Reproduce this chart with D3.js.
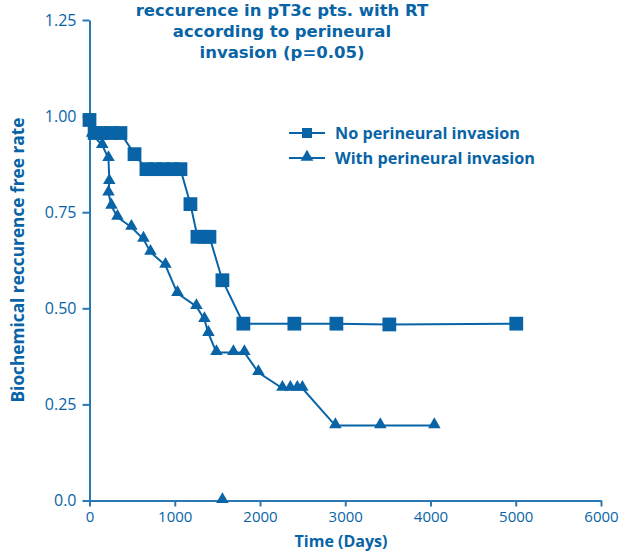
<!DOCTYPE html>
<html><head><meta charset="utf-8">
<script src="https://cdn.jsdelivr.net/npm/d3@7"></script>
<style>body{margin:0;background:#fff}</style>
</head><body>
<svg id="c" width="632" height="554"></svg>
<script>
// ---- data ----
const titleLines = ["reccurence in pT3c pts. with RT", "according to perineural", "invasion (p=0.05)"];
const xTicks = [0, 1000, 2000, 3000, 4000, 5000, 6000];
const yTicks = [0, 0.25, 0.5, 0.75, 1.0, 1.25];
const yTickLabels = ["0.0", "0.25", "0.50", "0.75", "1.00", "1.25"];
const seriesNames = ["No perineural invasion", "With perineural invasion"];
const noPniDays = [0, 60, 150, 250, 363, 528, 668, 770, 870, 970, 1067, 1184, 1266, 1340, 1407, 1559, 1805, 2403, 2896, 3517, 5006];
const noPniRate = [0.99, 0.956, 0.956, 0.956, 0.956, 0.901, 0.862, 0.862, 0.862, 0.862, 0.862, 0.771, 0.686, 0.686, 0.686, 0.573, 0.46, 0.46, 0.46, 0.458, 0.46];
const pniDays = [30, 150, 223, 232, 223, 258, 328, 492, 633, 715, 891, 1032, 1254, 1348, 1395, 1489, 1688, 1817, 1981, 2263, 2356, 2438, 2497, 2884, 3411, 4045];
const pniRate = [0.953, 0.924, 0.89, 0.83, 0.80, 0.766, 0.737, 0.711, 0.68, 0.646, 0.612, 0.539, 0.505, 0.471, 0.435, 0.385, 0.385, 0.385, 0.333, 0.292, 0.292, 0.292, 0.292, 0.195, 0.195, 0.195];
const pniExtraDays = [1559];
const pniExtraRate = [0.0];

// ---- drawing ----
const col = "#0864a6";
const svg = d3.select("#c");
const x = d3.scaleLinear().domain([0, 6000]).range([89.5, 601]);
const y = d3.scaleLinear().domain([0, 1.25]).range([500.5, 20]);
const font = "'Open Sans', 'Noto Sans', sans-serif";

// axes
const xAxis = svg.append("g").attr("transform", "translate(0,500.5)")
  .call(d3.axisBottom(x).tickValues(xTicks).tickSize(6).tickPadding(5).tickFormat(d3.format("d")).tickSizeOuter(0));
const yAxis = svg.append("g").attr("transform", "translate(89.5,0)")
  .call(d3.axisLeft(y).tickValues(yTicks).tickSize(7).tickPadding(6).tickFormat((d, i) => yTickLabels[i]).tickSizeOuter(0));
[xAxis, yAxis].forEach(g => {
  g.selectAll("path,line").attr("stroke", "#2a78b4").attr("stroke-width", 2);
  g.selectAll("text").attr("fill", col).attr("font-family", font).attr("font-size", 15);
});
yAxis.selectAll("text").attr("font-size", 16);

// lines
const line = d3.line().x(d => x(d[0])).y(d => y(d[1]));
const sq = noPniDays.map((d, i) => [d, noPniRate[i]]);
const tr = pniDays.map((d, i) => [d, pniRate[i]]);
const ex = pniExtraDays.map((d, i) => [d, pniExtraRate[i]]);
svg.append("path").datum(sq).attr("d", line).attr("fill", "none").attr("stroke", col).attr("stroke-width", 2);
svg.append("path").datum(tr).attr("d", line).attr("fill", "none").attr("stroke", col).attr("stroke-width", 2);

const sqSym = d3.symbol().type(d3.symbolSquare).size(190);
const trSym = d3.symbol().type(d3.symbolTriangle).size(68);
svg.append("g").selectAll("path").data(sq).join("path")
  .attr("d", sqSym).attr("transform", d => `translate(${x(d[0])},${y(d[1])})`).attr("fill", col);
svg.append("g").selectAll("path").data(tr.concat(ex)).join("path")
  .attr("d", trSym).attr("transform", d => `translate(${x(d[0])},${y(d[1]) - 1})`).attr("fill", col);

// title
svg.append("g").selectAll("text").data(titleLines).join("text")
  .attr("x", 282).attr("y", (d, i) => 15.5 + i * 21)
  .attr("text-anchor", "middle").attr("fill", col)
  .attr("font-family", "'DejaVu Sans', sans-serif").attr("font-weight", "bold").attr("font-size", 16.5)
  .text(d => d);

// legend
const leg = svg.append("g");
seriesNames.forEach((name, i) => {
  const ly = 133 + i * 25;
  leg.append("line").attr("x1", 289).attr("x2", 325).attr("y1", ly).attr("y2", ly).attr("stroke", col).attr("stroke-width", 2);
  leg.append("path").attr("d", i === 0 ? d3.symbol().type(d3.symbolSquare).size(100)() : d3.symbol().type(d3.symbolTriangle).size(70)())
    .attr("transform", `translate(307,${i === 0 ? ly : ly - 1})`).attr("fill", col);
  leg.append("text").attr("x", 335).attr("y", ly + 5.5).attr("fill", col)
    .attr("font-family", font).attr("font-weight", "bold").attr("font-size", 16.2).text(name);
});

// axis labels
svg.append("text").attr("x", 341).attr("y", 547).attr("text-anchor", "middle").attr("fill", col)
  .attr("font-family", font).attr("font-weight", "bold").attr("font-size", 16).text("Time (Days)");
svg.append("text").attr("transform", "translate(24,260) rotate(-90)").attr("text-anchor", "middle").attr("fill", col)
  .attr("font-family", font).attr("font-weight", "bold").attr("font-size", 17.3).text("Biochemical reccurence free rate");
</script>
</body></html>
